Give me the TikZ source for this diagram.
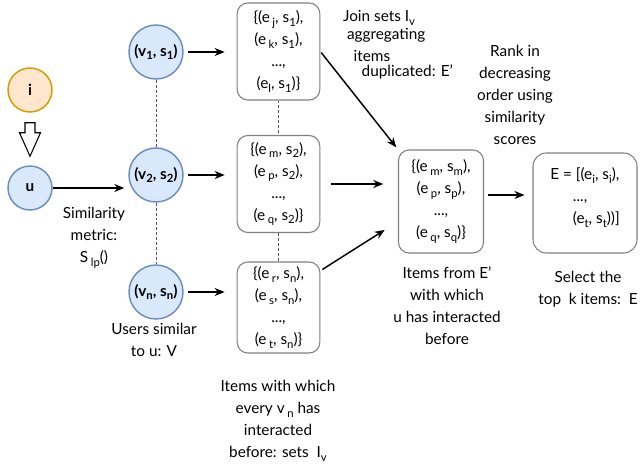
\documentclass[tikz,border=0pt]{standalone}
\usepackage{fontspec}
\setmainfont{Lato}
\usetikzlibrary{arrows.meta,calc,positioning}
\definecolor{UserFill}{HTML}{DAE8FC}
\definecolor{UserLine}{HTML}{6C8EBF}
\definecolor{ItemFill}{HTML}{FFE6CC}
\definecolor{ItemLine}{HTML}{D79B00}
\definecolor{SetLine}{HTML}{808080}
\definecolor{LinkLine}{HTML}{555555}
\newcommand{\sbs}[1]{\raisebox{-.45ex}{\fontsize{8.5}{9}\selectfont#1}}
\begin{document}
\begin{tikzpicture}[x=.75pt,y=-.75pt,font=\fontsize{11.5}{16.5}\selectfont,
    user/.style={circle,draw=UserLine,fill=UserFill,line width=1.1pt,inner sep=0pt,minimum size=40.5pt,font=\bfseries\fontsize{11.5}{12}\selectfont},
    setbox/.style={draw=SetLine,rounded corners=8pt,line width=.8pt,align=center,inner sep=0pt,minimum width=62pt},
    flow/.style={-{Stealth[length=7.5pt,width=6pt]},line width=1.1pt},
    link/.style={LinkLine,dash pattern=on 2.2pt off 1.5pt,line width=.7pt},
    note/.style={align=center}]
  \useasboundingbox (0,0) rectangle (640,465);
  % query item and user
  \node[user,draw=ItemLine,fill=ItemFill,minimum size=33pt] (i) at (30,90) {i};
  \node[user,minimum size=33pt] (u) at (30,188) {u};
  \draw[fill=white,line width=.8pt] ($(i.south)+(-5,10)$) -- ($(i.south)+(5,10)$) -- ($(i.south)+(5,20)$)
    -- ($(i.south)+(10.5,20)$) -- ($(u.north)+(0,-9)$) -- ($(i.south)+(-10.5,20)$) -- ($(i.south)+(-5,20)$) -- cycle;
  % similar users
  \node[user] (v1) at (156,52) {(v\sbs{1}, s\sbs{1})};
  \node[user] (v2) at (156,175) {(v\sbs{2}, s\sbs{2})};
  \node[user] (vn) at (156,292) {(v\sbs{n}, s\sbs{n})};
  \draw[link] (v1) -- (v2);
  \draw[link] (v2) -- (vn);
  \draw[flow,shorten >=3pt] (u.east) -- (v2.west |- u);
  \node[note] (simlabel) at (94,238) {Similarity\\metric:\\S\,\sbs{lp}()};
  \node[note] (userlabel) at (154,340) {Users similar\\to u: V};
  % item sets of every similar user
  \node[setbox,minimum height=72.75pt] (set1) at (278.5,51.5) {\{(e\,\sbs{j}, s\sbs{1}),\\(e\,\sbs{k}, s\sbs{1}),\\...,\\(e\sbs{l}, s\sbs{1})\}};
  \node[setbox,minimum height=72.75pt] (set2) at (278.5,184) {\{(e\,\sbs{m}, s\sbs{2}),\\(e\,\sbs{p}, s\sbs{2}),\\...,\\(e\,\sbs{q}, s\sbs{2})\}};
  \node[setbox,minimum height=68.25pt] (setn) at (278.5,307.5) {\{(e\,\sbs{r}, s\sbs{n}),\\(e\,\sbs{s}, s\sbs{n}),\\...,\\(e\,\sbs{t}, s\sbs{n})\}};
  \draw[link] (set1) -- (set2);
  \draw[link] (set2) -- (setn);
  \foreach \v/\s in {v1/set1,v2/set2,vn/setn}{\draw[flow,shorten <=3pt,shorten >=9pt] (\v.east) -- (\v -| \s.west);}
  \node[note] (setlabel) at (278,421) {Items with which\\every v\,\sbs{n} has\\interacted\\before: sets\ \ I\sbs{v}};
  % joined and ranked items
  \node[setbox,minimum width=63.75pt,minimum height=77.25pt] (joined) at (441,201.5) {\{(e\,\sbs{m}, s\sbs{m}),\\(e\,\sbs{p}, s\sbs{p}),\\...,\\(e\,\sbs{q}, s\sbs{q})\}};
  \draw[flow,shorten <=1pt,shorten >=2pt] (set1.east) -- (joined.north west);
  \draw[flow,shorten <=8pt,shorten >=11pt] (set2.east) -- (set2.east -| joined.west);
  \draw[flow,shorten >=2pt] ($(setn.north east)+(2,8)$) -- ($(joined.west)+(-11,27)$);
  \node[align=left] (joinlabel) at (398,45) {Join sets I\sbs{v}\\[-3pt]\hspace{3pt}aggregating\\\hspace{8pt}items\\[-5pt]\hspace{14pt}duplicated: E'};
  \node[note] (ranklabel) at (515,95) {Rank in\\decreasing\\order using\\similarity\\scores};
  \node[note] (joinedlabel) at (447,306) {Items from E'\\with which\\u has interacted\\before};
  % top k result
  \node[setbox,rounded corners=10pt,minimum width=78pt,minimum height=75pt,align=left] (topk) at (585,203)
    {E = [(e\sbs{i}, s\sbs{i}),\\\hspace{17pt}...,\\\hspace{17pt}(e\sbs{t}, s\sbs{t}))]\\[-6pt]\mbox{}};
  \draw[flow,shorten <=3pt,shorten >=6pt] ($(joined.east)+(0,-6.5)$) -- ($(joined.east -| topk.west)+(0,-6.5)$);
  \node[note] (topklabel) at (588,289) {Select the\\top\ \ k items:\ \ E};
\end{tikzpicture}
\end{document}
